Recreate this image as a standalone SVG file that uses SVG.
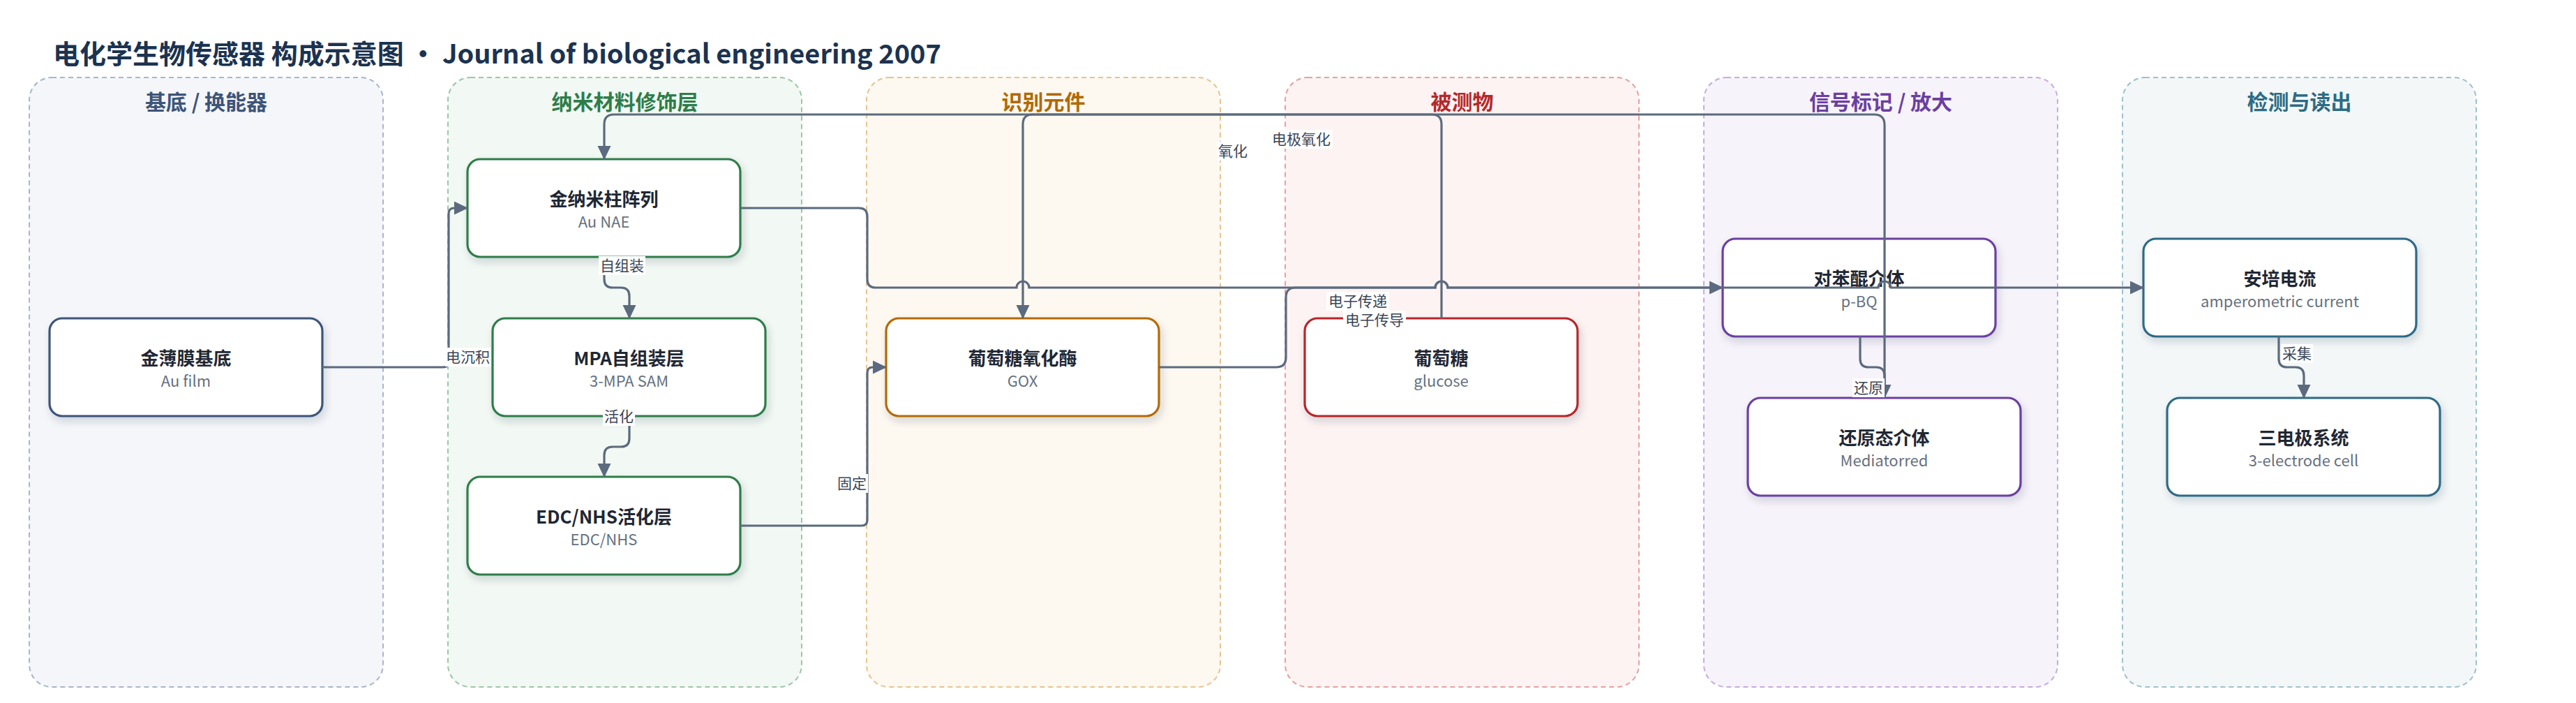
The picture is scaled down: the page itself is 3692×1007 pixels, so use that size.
<svg xmlns="http://www.w3.org/2000/svg" width="3692" height="1007" viewBox="0 0 3692 1007">
<style>
text{font-family:"Noto Sans CJK SC","Noto Sans",sans-serif}
.title{font-size:38px;font-weight:700;fill:#1b3350}
.lane{stroke-width:2;stroke-dasharray:7 5}
.lt{font-size:30px;font-weight:700;text-anchor:middle}
.node{fill:#ffffff;stroke-width:3.2;filter:url(#sh)}
.nt{font-size:26px;font-weight:700;fill:#1f2733;text-anchor:middle}
.ns{font-size:22px;fill:#66717f;text-anchor:middle}
.e{fill:none;stroke:#5b6a7e;stroke-width:3.2;marker-end:url(#ah)}
.e0{fill:none;stroke:#5b6a7e;stroke-width:3.2}
.lb{fill:#ffffff}
.lx{font-size:21px;fill:#3a4556;text-anchor:middle}
</style>
<defs>
<marker id="ah" viewBox="0 0 20 20" markerWidth="20" markerHeight="20" refX="19" refY="10" orient="auto" markerUnits="userSpaceOnUse">
<path d="M0,0.5 L20,10 L0,19.5 z" fill="#5b6a7e"/>
</marker>
<filter id="sh" x="-10%" y="-10%" width="130%" height="140%">
<feDropShadow dx="3" dy="6" stdDeviation="6" flood-color="#1f2937" flood-opacity="0.16"/>
</filter>
</defs>
<rect width="3692" height="1007" fill="#ffffff"/>
<text class="title" x="76" y="91">电化学生物传感器 构成示意图 · Journal of biological engineering 2007</text>
<g id="lanes">
<g id="lane-substrate"><rect class="lane" x="42" y="111" width="507" height="873" rx="32" fill="#f4f6fa" stroke="#a9b5c9"/><text class="lt" x="295.5" y="157" fill="#3d5478">基底 / 换能器</text></g>
<g id="lane-nano"><rect class="lane" x="642" y="111" width="507" height="873" rx="32" fill="#f2f8f3" stroke="#9cc6a7"/><text class="lt" x="895.5" y="157" fill="#2e7d4a">纳米材料修饰层</text></g>
<g id="lane-recog"><rect class="lane" x="1242" y="111" width="507" height="873" rx="32" fill="#fdf8f0" stroke="#e6c490"/><text class="lt" x="1495.5" y="157" fill="#b06a00">识别元件</text></g>
<g id="lane-analyte"><rect class="lane" x="1842" y="111" width="507" height="873" rx="32" fill="#fdf3f3" stroke="#e8a0a0"/><text class="lt" x="2095.5" y="157" fill="#b5292a">被测物</text></g>
<g id="lane-signal"><rect class="lane" x="2442" y="111" width="507" height="873" rx="32" fill="#f7f3fb" stroke="#c5abde"/><text class="lt" x="2695.5" y="157" fill="#6a3fa0">信号标记 / 放大</text></g>
<g id="lane-detect"><rect class="lane" x="3042" y="111" width="507" height="873" rx="32" fill="#f3f7f8" stroke="#9ec0cc"/><text class="lt" x="3295.5" y="157" fill="#2d6b84">检测与读出</text></g>
</g>
<g id="nodes">
<g id="n-aufilm"><rect class="node" x="71" y="456" width="391" height="140" rx="18" stroke="#3d5478"/><text class="nt" x="266.5" y="523">金薄膜基底</text><text class="ns" x="266.5" y="554">Au film</text></g>
<g id="n-aunae"><rect class="node" x="670" y="228" width="391" height="140" rx="18" stroke="#2e7d4a"/><text class="nt" x="865.5" y="295">金纳米柱阵列</text><text class="ns" x="865.5" y="326">Au NAE</text></g>
<g id="n-mpa"><rect class="node" x="706" y="456" width="391" height="140" rx="18" stroke="#2e7d4a"/><text class="nt" x="901.5" y="523">MPA自组装层</text><text class="ns" x="901.5" y="554">3-MPA SAM</text></g>
<g id="n-edc"><rect class="node" x="670" y="683" width="391" height="140" rx="18" stroke="#2e7d4a"/><text class="nt" x="865.5" y="750">EDC/NHS活化层</text><text class="ns" x="865.5" y="781">EDC/NHS</text></g>
<g id="n-gox"><rect class="node" x="1270" y="456" width="391" height="140" rx="18" stroke="#b36b00"/><text class="nt" x="1465.5" y="523">葡萄糖氧化酶</text><text class="ns" x="1465.5" y="554">GOX</text></g>
<g id="n-glucose"><rect class="node" x="1870" y="456" width="391" height="140" rx="18" stroke="#b5282a"/><text class="nt" x="2065.5" y="523">葡萄糖</text><text class="ns" x="2065.5" y="554">glucose</text></g>
<g id="n-pbq"><rect class="node" x="2469" y="342" width="391" height="140" rx="18" stroke="#6b3fa0"/><text class="nt" x="2664.5" y="409">对苯醌介体</text><text class="ns" x="2664.5" y="440">p-BQ</text></g>
<g id="n-medred"><rect class="node" x="2505" y="570" width="391" height="140" rx="18" stroke="#6b3fa0"/><text class="nt" x="2700.5" y="637">还原态介体</text><text class="ns" x="2700.5" y="668">Mediatorred</text></g>
<g id="n-amp"><rect class="node" x="3072" y="342" width="391" height="140" rx="18" stroke="#2e6b85"/><text class="nt" x="3267.5" y="409">安培电流</text><text class="ns" x="3267.5" y="440">amperometric current</text></g>
<g id="n-cell"><rect class="node" x="3106" y="570" width="391" height="140" rx="18" stroke="#2e6b85"/><text class="nt" x="3301.5" y="637">三电极系统</text><text class="ns" x="3301.5" y="668">3-electrode cell</text></g>
</g>
<g id="connectors">
<path class="e" d="M462,526 H635 Q643,526 643,518 V306 Q643,298 651,298 H670"/>
<path class="e" d="M866,368 V400 Q866,412 878,412 H890 Q902,412 902,424 V456"/>
<path class="e" d="M902,596 V628 Q902,640 890,640 H878 Q866,640 866,652 V683"/>
<path class="e" d="M1061,753 H1235 Q1243,753 1243,745 V534 Q1243,526 1251,526 H1270"/>
<path class="e" d="M1062,298 H1231 Q1243,298 1243,310 V400 Q1243,412 1255,412 H1457 A9,9 0 0 1 1475,412 H2057 A9,9 0 0 1 2075,412 H2692 A9,9 0 0 1 2710,412 H3072"/>
<path class="e" d="M1661,526 H1829 Q1843,526 1843,512 V426 Q1843,412 1857,412 H2057 A9,9 0 0 1 2075,412 H2469"/>
<path class="e" d="M2066,456 V178 Q2066,164 2052,164 H1480 Q1466,164 1466,178 V456"/>
<path class="e" d="M2701,570 V179 Q2701,164 2686,164 H880 Q866,164 866,178 V228"/>
<path class="e" d="M2666,482 V514 Q2666,526 2678,526 H2689 Q2701,526 2701,538 V570"/>
<path class="e" d="M3266,482 V514 Q3266,526 3278,526 H3290 Q3302,526 3302,538 V570"/>
<g id="labels">
<rect class="lb" x="638" y="498" width="65" height="27"/><text class="lx" x="670.5" y="519">电沉积</text>
<rect class="lb" x="858" y="367" width="67" height="27"/><text class="lx" x="891.5" y="388">自组装</text>
<rect class="lb" x="864" y="583" width="46" height="27"/><text class="lx" x="887" y="604">活化</text>
<rect class="lb" x="1198" y="679" width="46" height="27"/><text class="lx" x="1221" y="700">固定</text>
<rect class="lb" x="1744" y="203" width="46" height="27"/><text class="lx" x="1767" y="224">氧化</text>
<rect class="lb" x="1820" y="186" width="90" height="27"/><text class="lx" x="1865" y="207">电极氧化</text>
<rect class="lb" x="1901" y="418" width="90" height="27"/><text class="lx" x="1946" y="439">电子传递</text>
<rect class="lb" x="1925" y="445" width="90" height="27"/><text class="lx" x="1970" y="466">电子传导</text>
<rect class="lb" x="2655" y="542" width="46" height="27"/><text class="lx" x="2678" y="563">还原</text>
<rect class="lb" x="3269" y="493" width="46" height="27"/><text class="lx" x="3292" y="514">采集</text>
</g>
</g>
</svg>
